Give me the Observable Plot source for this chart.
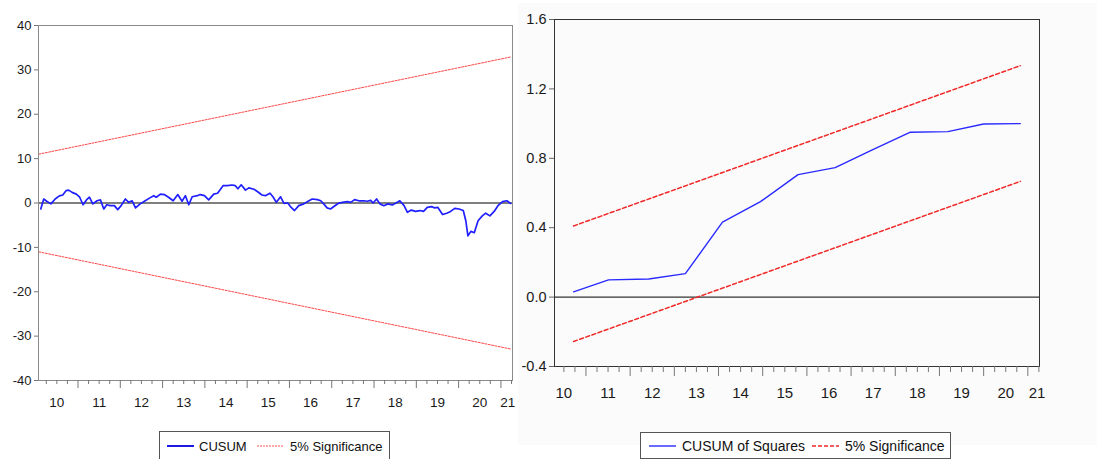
<!DOCTYPE html>
<html><head><meta charset="utf-8">
<script src="https://cdn.jsdelivr.net/npm/d3@7"></script>
<script src="https://cdn.jsdelivr.net/npm/@observablehq/plot@0.6"></script>
<style>
html,body{margin:0;padding:0;background:#fff;}
body{width:1097px;height:459px;overflow:hidden;position:relative;font-family:"Liberation Sans",Arial,sans-serif;}
#left{position:absolute;left:0;top:0;}
#rightbg{position:absolute;left:518px;top:3px;width:579px;height:442px;background:#fbfbfb;}
#right{position:absolute;left:520px;top:0;}
.legend{position:absolute;border:1px solid #555;background:#fff;box-sizing:border-box;color:#111;white-space:nowrap;}
.legend > *{position:absolute;top:50%;transform:translateY(-50%);}
.legend svg{display:block;}
</style>
</head><body>
<div id="left"></div>
<div id="rightbg"></div>
<div id="right"></div>
<div class="legend" id="legL" style="left:159px;top:431px;width:231px;height:29px;font-size:13px;"></div>
<div class="legend" id="legR" style="left:640px;top:432px;width:311px;height:27px;font-size:14px;"></div>
<script>
// ---------- Data ----------
const yearLabels = ["10","11","12","13","14","15","16","17","18","19","20","21"];

// Left panel: CUSUM (x = year index, fractional)
const cusumT = [10.12,10.19,10.26,10.36,10.46,10.56,10.64,10.72,10.78,10.86,10.96,11.04,11.12,11.20,11.27,11.35,11.45,11.53,11.61,11.68,11.76,11.86,11.94,12.02,12.12,12.20,12.28,12.36,12.47,12.59,12.69,12.79,12.85,12.95,13.04,13.14,13.25,13.36,13.46,13.54,13.62,13.70,13.82,13.89,13.99,14.09,14.21,14.30,14.43,14.53,14.64,14.72,14.78,14.86,14.96,15.04,15.16,15.24,15.35,15.43,15.54,15.61,15.69,15.79,15.87,15.96,16.04,16.12,16.22,16.34,16.44,16.54,16.66,16.74,16.81,16.89,16.97,17.05,17.15,17.25,17.37,17.45,17.54,17.64,17.76,17.84,17.92,17.98,18.06,18.14,18.23,18.33,18.43,18.53,18.61,18.71,18.79,18.88,18.98,19.09,19.17,19.26,19.36,19.43,19.51,19.62,19.72,19.81,19.91,20.01,20.11,20.17,20.22,20.29,20.37,20.46,20.56,20.64,20.74,20.84,20.93,21.04,21.14,21.23];
const cusumV = [-1.35,0.9,0.4,-0.2,0.9,1.6,1.8,2.8,2.9,2.4,2.0,1.3,-0.4,0.7,1.3,-0.2,0.5,0.7,-1.35,-0.4,-0.6,-0.6,-1.5,-0.6,0.9,0.15,0.5,-1.1,-0.2,0.5,1.1,1.65,1.3,2.0,1.9,1.3,0.5,1.9,0.4,1.65,-0.4,1.4,1.65,1.9,1.65,0.7,2.0,2.2,3.9,3.9,4.05,3.9,3.2,4.1,2.9,3.4,3.1,2.6,1.8,1.65,2.2,1.4,0.15,1.4,-0.1,0,-1.0,-1.7,-0.6,-0.2,0.4,0.9,0.75,0.5,-0.2,-1.1,-1.35,-0.8,-0.1,0.15,0.3,0.15,0.75,0.5,0.5,0.4,0.6,0,0.9,-0.2,-0.6,-0.2,-0.45,0.05,0.5,-0.6,-2.1,-1.6,-1.9,-1.7,-1.9,-1.0,-0.8,-1.1,-1.0,-2.6,-2.3,-1.9,-1.2,-1.35,-1.7,-4.0,-7.4,-6.4,-6.7,-4.0,-2.9,-2.3,-2.9,-1.9,-0.6,0.3,0.5,-0.1];
const cusumSigT = [10.07, 21.23];
const cusumSigUpper = [11.0, 32.9];
const cusumSigLower = [-11.0, -32.9];
const cusumYTicks = [-40,-30,-20,-10,0,10,20,30,40];

// Right panel: CUSUM of Squares
const sqT = [10.72,11.51,12.42,13.25,14.09,14.95,15.80,16.64,17.48,18.33,19.19,20.00,20.83];
const sqV = [0.030,0.099,0.104,0.135,0.432,0.55,0.706,0.746,0.848,0.950,0.954,0.998,1.0];
const sqSigT = [10.72, 20.83];
const sqSigUpper = [0.41, 1.334];
const sqSigLower = [-0.256, 0.667];
const sqYTicks = [-0.4,0.0,0.4,0.8,1.2,1.6];

// ---------- helpers ----------
const FONT = '"Liberation Sans",Arial,sans-serif';
const cusumData = cusumT.map((t,i)=>({t, v: cusumV[i]}));
const sqData = sqT.map((t,i)=>({t, v: sqV[i]}));
const sigLines = (T, U, L) => [
  ...T.map((t,i)=>({t, v:U[i], k:"u"})),
  ...T.map((t,i)=>({t, v:L[i], k:"l"}))
];
function xAxisMarks(domain, lastLabelT, labelPad, fontSize, majorSize, minorSize){
  const majors = d3.range(Math.ceil(domain[0]), Math.floor(domain[1]) + 1).filter(d => d > domain[0] + 0.01);
  const minors = d3.range(Math.floor(domain[0]) + 0.25, domain[1], 0.25).filter(d => d % 1 !== 0 && d > domain[0] + 0.05);
  const labelTs = yearLabels.map((s,i) => i === yearLabels.length - 1 ? lastLabelT : +s + 0.5);
  return [
    Plot.axisX({ticks: minors, tickSize: minorSize, tickFormat: () => "", stroke: "#777", label: null}),
    Plot.axisX({ticks: majors, tickSize: majorSize, tickFormat: () => "", stroke: "#777", label: null}),
    Plot.axisX({ticks: labelTs, tickSize: 0, tickPadding: labelPad, tickFormat: d => String(Math.floor(d)), fontSize, fill: "#1a1a1a", label: null})
  ];
}

// ---------- Left chart ----------
const leftDomain = [10.066, 21.274];
const left = Plot.plot({
  width: 520, height: 420,
  marginLeft: 38, marginRight: 8, marginTop: 25, marginBottom: 40,
  style: {fontFamily: FONT, fontSize: "13px", background: "transparent", overflow: "visible"},
  x: {domain: leftDomain, label: null},
  y: {domain: [-40, 40], label: null},
  marks: [
    Plot.ruleY([0], {stroke: "#000", strokeWidth: 1}),
    Plot.line(sigLines(cusumSigT, cusumSigUpper, cusumSigLower), {x: "t", y: "v", z: "k", stroke: "#ff3030", strokeWidth: 0.9, strokeDasharray: "2,1.4"}),
    Plot.line(cusumData, {x: "t", y: "v", stroke: "#1f1fff", strokeWidth: 1.7}),
    Plot.frame({stroke: "#8a8a8a"}),
    Plot.axisY({ticks: cusumYTicks, tickSize: 4, tickPadding: 3, tickFormat: d => String(d), stroke: "#777", fill: "#1a1a1a", fontSize: 13, label: null}),
    ...xAxisMarks(leftDomain, 21.16, 17, 13.5, 8, 4)
  ]
});
document.getElementById("left").appendChild(left);

// ---------- Right chart ----------
const rightDomain = [10.288, 21.264];
const right = Plot.plot({
  width: 577, height: 420,
  marginLeft: 34, marginRight: 58, marginTop: 19, marginBottom: 54,
  style: {fontFamily: FONT, fontSize: "14px", background: "transparent", overflow: "visible"},
  x: {domain: rightDomain, label: null},
  y: {domain: [-0.4, 1.6], label: null},
  marks: [
    Plot.ruleY([0], {stroke: "#000", strokeWidth: 1}),
    Plot.line(sigLines(sqSigT, sqSigUpper, sqSigLower), {x: "t", y: "v", z: "k", stroke: "#f02828", strokeWidth: 1.5, strokeDasharray: "4,2.5"}),
    Plot.line(sqData, {x: "t", y: "v", stroke: "#2a2aff", strokeWidth: 1.4}),
    Plot.frame({stroke: "#333"}),
    Plot.axisY({ticks: sqYTicks, tickSize: 5, tickPadding: 3, tickFormat: d => d.toFixed(1), stroke: "#666", fill: "#1a1a1a", fontSize: 14.5, label: null}),
    ...xAxisMarks(rightDomain, 21.21, 21, 15, 10, 6)
  ]
});
document.getElementById("right").appendChild(right);

// ---------- Legends ----------
function swatch(color, width, dash, w){
  return `<svg width="${w}" height="10"><line x1="0" y1="5" x2="${w}" y2="5" stroke="${color}" stroke-width="${width}" ${dash ? `stroke-dasharray="${dash}"` : ""}/></svg>`;
}
document.getElementById("legL").innerHTML =
  `<span style="left:7px">${swatch("#0000e0",1.8,null,27)}</span>` +
  `<span style="left:39px">CUSUM</span>` +
  `<span style="left:97px">${swatch("#ff4040",0.9,"2,1",27)}</span>` +
  `<span style="left:130px">5% Significance</span>`;
document.getElementById("legR").innerHTML =
  `<span style="left:8px">${swatch("#2a2aff",1.4,null,27)}</span>` +
  `<span style="left:41px">CUSUM of Squares</span>` +
  `<span style="left:171px">${swatch("#f02828",1.5,"4,2",27)}</span>` +
  `<span style="left:204px">5% Significance</span>`;
</script>
</body></html>
